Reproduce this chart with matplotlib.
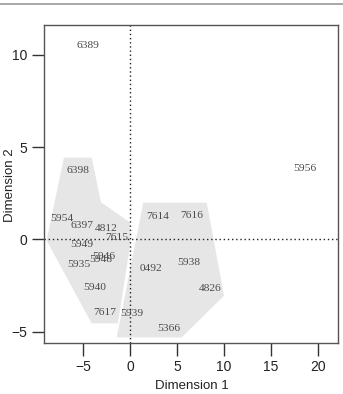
import matplotlib
matplotlib.use("Agg")
import matplotlib.pyplot as plt
from matplotlib.patches import Polygon
from matplotlib.lines import Line2D

labels = ["6389", "6398", "5954", "6397", "4812", "7615", "5949", "5946", "5948",
          "5935", "5940", "7617", "5939", "0492", "7614", "7616", "5938", "4826",
          "5366", "5956"]
dim1 = [-4.47, -5.5, -7.2, -5.1, -2.55, -1.4, -5.1, -2.8, -3.1,
        -5.4, -3.7, -2.66, 0.2, 2.2, 2.9, 6.6, 6.2, 8.5,
        4.15, 18.6]
dim2 = [10.5, 3.74, 1.14, 0.76, 0.6, 0.1, -0.27, -0.92, -1.08,
        -1.36, -2.6, -3.96, -4.0, -1.57, 1.25, 1.3, -1.25, -2.65,
        -4.8, 3.85]

hull1_x = [-7.02, -4.07, -3.09, 0.0, 0.05, -1.28, -4.07, -8.86]
hull1_y = [4.43, 4.43, 2.02, 0.92, -0.2, -4.54, -4.54, -0.05]
hull2_x = [1.41, 8.16, 10.0, 5.5, -1.41]
hull2_y = [1.99, 1.99, -3.04, -5.3, -5.3]

xticks = [-5, 0, 5, 10, 15, 20]
yticks = [-5, 0, 5, 10]

fig = plt.figure(figsize=(3.43, 3.94), dpi=100)
ax = fig.add_axes([0.128, 0.1294, 0.857, 0.807])
ax.set_xlim(-9.15, 22.1)
ax.set_ylim(-5.6, 11.6)

for hx, hy in [(hull1_x, hull1_y), (hull2_x, hull2_y)]:
    ax.add_patch(Polygon(list(zip(hx, hy)), closed=True, facecolor="#e6e6e6",
                         edgecolor="none", zorder=1))

ax.axvline(0, color="#222222", linestyle=(0, (1, 2)), linewidth=1.0, zorder=2)
ax.axhline(0, color="#222222", linestyle=(0, (1, 2)), linewidth=1.0, zorder=2)

for lab, x, y in zip(labels, dim1, dim2):
    ax.text(x, y, lab, ha="center", va="center", fontsize=8.2,
            family="Liberation Serif", color="#4a4a4a", zorder=3)

ax.set_xticks(xticks)
ax.set_yticks(yticks)
ax.set_xticklabels([str(t).replace("-", "\u2212") for t in xticks])
ax.set_yticklabels([str(t).replace("-", "\u2212") for t in yticks])
ax.tick_params(direction="out", length=9, width=1.0, color="#333333",
               labelsize=10, labelcolor="#222222", pad=3)
for lab in ax.get_xticklabels() + ax.get_yticklabels():
    lab.set_family("Liberation Sans")
for s in ax.spines.values():
    s.set_color("#555555")
    s.set_linewidth(1.0)

fig.text(0.56, 0.02, "Dimension 1", ha="center", va="center", fontsize=9.5,
         family="Liberation Sans", color="#222222")
fig.text(0.012, 0.53, "Dimension 2", ha="left", va="center", rotation=90,
         fontsize=9.5, family="Liberation Sans", color="#222222")

fig.add_artist(Line2D([0, 1], [0.99, 0.99], transform=fig.transFigure,
                      color="#999999", linewidth=1.2))

fig.savefig("out.png", dpi=100)
